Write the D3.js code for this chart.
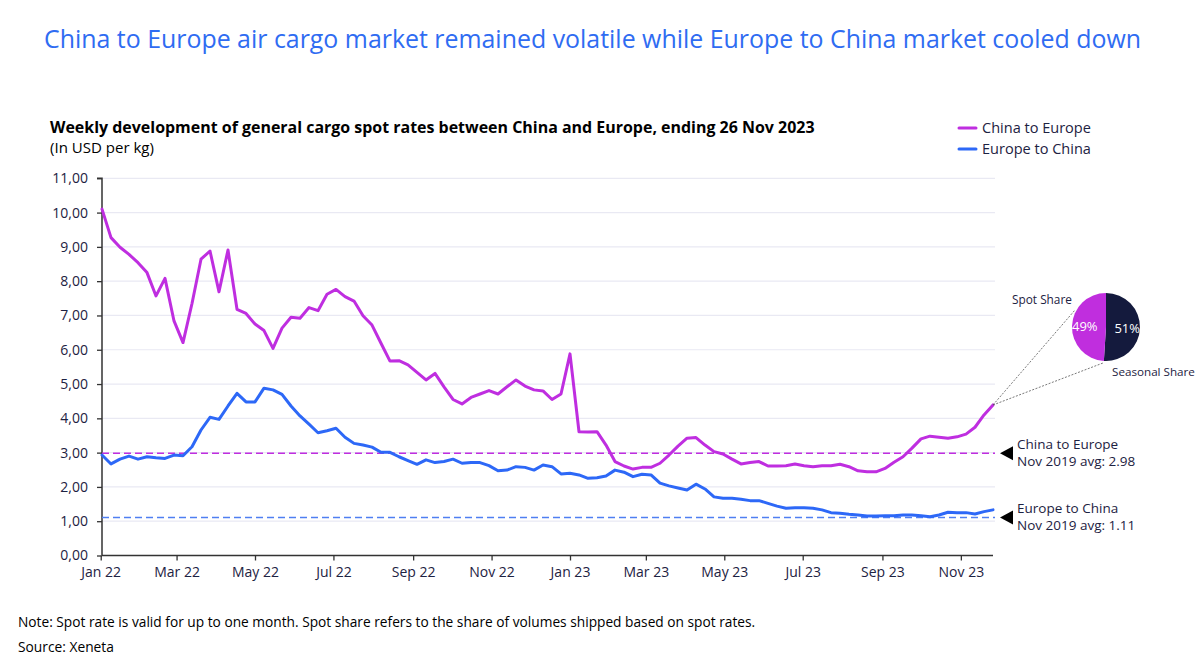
<!DOCTYPE html>
<html><head><meta charset="utf-8">
<script src="https://cdn.jsdelivr.net/npm/d3@7"></script>
<style>
body{margin:0;background:#fff;}
text{font-family:"Open Sans","Noto Sans",sans-serif;}
</style></head>
<body><svg id="c" width="1200" height="657"></svg>
<script>
// ---- data ----
const firstWeek = "2022-01-02"; // weekly, ending 26 Nov 2023
const chinaToEurope = [10.10,9.27,8.99,8.78,8.54,8.25,7.57,8.08,6.84,6.21,
7.35,8.64,8.88,7.69,8.91,7.18,7.06,6.75,6.56,6.04,
6.63,6.95,6.92,7.23,7.14,7.62,7.76,7.55,7.42,6.99,
6.72,6.19,5.67,5.68,5.56,5.34,5.12,5.31,4.92,4.55,
4.42,4.61,4.71,4.81,4.71,4.92,5.12,4.94,4.83,4.80,
4.55,4.71,5.88,3.61,3.60,3.61,3.22,2.74,2.61,2.52,
2.57,2.57,2.69,2.93,3.19,3.42,3.44,3.22,3.03,2.96,
2.81,2.67,2.71,2.74,2.61,2.61,2.62,2.67,2.62,2.59,
2.62,2.62,2.66,2.59,2.47,2.44,2.44,2.54,2.72,2.88,
3.13,3.40,3.48,3.45,3.42,3.46,3.54,3.74,4.10,4.39];
const europeToChina = [2.93,2.67,2.81,2.90,2.81,2.88,2.85,2.83,2.93,2.91,
3.17,3.66,4.03,3.97,4.36,4.73,4.48,4.48,4.88,4.83,
4.70,4.36,4.07,3.83,3.58,3.64,3.71,3.45,3.27,3.22,
3.16,3.01,3.01,2.88,2.77,2.66,2.79,2.71,2.74,2.81,
2.69,2.71,2.71,2.62,2.47,2.49,2.59,2.57,2.49,2.64,
2.59,2.38,2.40,2.35,2.25,2.27,2.32,2.49,2.43,2.30,
2.37,2.35,2.11,2.03,1.97,1.91,2.08,1.94,1.71,1.67,
1.67,1.64,1.60,1.60,1.52,1.44,1.38,1.39,1.39,1.38,
1.33,1.25,1.23,1.20,1.18,1.15,1.15,1.16,1.16,1.18,
1.18,1.16,1.13,1.18,1.26,1.25,1.25,1.21,1.28,1.33];
const seriesNames = ["China to Europe","Europe to China"];
const benchmarks = [2.98, 1.11];
const benchmarkLabels = [["China to Europe","Nov 2019 avg: 2.98"],["Europe to China","Nov 2019 avg: 1.11"]];
const yTicks = [0,1,2,3,4,5,6,7,8,9,10,11];
const xTickMonths = ["2022-01-01","2022-03-01","2022-05-01","2022-07-01","2022-09-01","2022-11-01",
"2023-01-01","2023-03-01","2023-05-01","2023-07-01","2023-09-01","2023-11-01"];
const pieLabels = ["Seasonal Share","Spot Share"];
const pieValues = [51, 49];

// ---- styles ----
const C_MAG = "#bf2ee0", C_BLUE = "#2d68f7", C_NAVY = "#141a3d", C_TXT = "#1d2242", C_TITLE = "#2f6cf2";

const svg = d3.select("#c");
const parse = d3.timeParse("%Y-%m-%d");
const start = parse(firstWeek);
const dates = chinaToEurope.map((_, i) => d3.timeDay.offset(start, 7 * i));

const x = d3.scaleTime().domain([dates[0], dates[dates.length - 1]]).range([102, 993]);
const y = d3.scaleLinear().domain([0, 11]).range([555.5, 178.3]);

function fit(sel, w) {
  const n = sel.node(); const fs = parseFloat(sel.attr("font-size"));
  const cur = n.getComputedTextLength();
  if (cur > 0) sel.attr("font-size", (fs * w / cur).toFixed(2));
  return sel;
}

// title
fit(svg.append("text").attr("x", 592.5).attr("y", 48).attr("text-anchor", "middle")
  .attr("font-size", 26).attr("fill", C_TITLE)
  .text("China to Europe air cargo market remained volatile while Europe to China market cooled down"), 1097);
fit(svg.append("text").attr("x", 50).attr("y", 133).attr("font-size", 16).attr("font-weight", 700).attr("fill", "#000")
  .text("Weekly development of general cargo spot rates between China and Europe, ending 26 Nov 2023"), 765);
fit(svg.append("text").attr("x", 50).attr("y", 153).attr("font-size", 14).attr("fill", "#000")
  .text("(In USD per kg)"), 104);

// gridlines
svg.append("g").selectAll("line").data(yTicks.filter(d => d > 0)).join("line")
  .attr("x1", 102).attr("x2", 995).attr("y1", d => y(d)).attr("y2", d => y(d))
  .attr("stroke", "#e9e9f3").attr("stroke-width", 1.2);

// y axis
const yAxis = svg.append("g").attr("transform", "translate(102,0)")
  .call(d3.axisLeft(y).tickValues(yTicks).tickSize(5).tickPadding(9)
    .tickFormat(d => d.toFixed(2).replace(".", ",")));
yAxis.select(".domain").attr("stroke", "#333").attr("stroke-width", 1.5).attr("d", `M-5,${y(11)}H0V${y(0)}`);
yAxis.selectAll(".tick line").attr("stroke", "#333").attr("stroke-width", 1.3);
yAxis.selectAll("text").attr("font-size", 14).attr("fill", C_TXT).attr("font-family", "Open Sans");

// x axis
const xAxis = svg.append("g").attr("transform", `translate(0,${y(0)})`)
  .call(d3.axisBottom(x).tickValues(xTickMonths.map(parse)).tickSize(5).tickPadding(7)
    .tickFormat(d3.timeFormat("%b %y")));
xAxis.select(".domain").attr("stroke", "#333").attr("stroke-width", 1.5).attr("d", "M102,0H993");
xAxis.selectAll(".tick line").attr("stroke", "#333").attr("stroke-width", 1.3);
xAxis.selectAll("text").attr("font-size", 14).attr("fill", C_TXT).attr("font-family", "Open Sans");

// benchmark dashed lines
const bColors = [C_MAG, "#4f7ff2"];
svg.append("g").selectAll("line").data(benchmarks).join("line")
  .attr("x1", 102).attr("x2", 995).attr("y1", d => y(d)).attr("y2", d => y(d))
  .attr("stroke", (d, i) => bColors[i]).attr("stroke-width", 1.5).attr("stroke-dasharray", "7,4");

// lines
const line = d3.line().x((d, i) => x(dates[i])).y(d => y(d));
[[chinaToEurope, C_MAG], [europeToChina, C_BLUE]].forEach(([vals, col]) => {
  svg.append("path").datum(vals).attr("d", line).attr("fill", "none")
    .attr("stroke", col).attr("stroke-width", 3).attr("stroke-linejoin", "round").attr("stroke-linecap", "round");
});

// arrows + benchmark labels
benchmarks.forEach((b, i) => {
  const yy = y(b);
  svg.append("path").attr("d", `M1000,${yy}L1013,${yy - 7}L1013,${yy + 7}Z`).attr("fill", "#000");
  svg.append("text").attr("x", 1017).attr("y", yy - 4.5).attr("font-size", 13.5).attr("fill", C_TXT).text(benchmarkLabels[i][0]);
  svg.append("text").attr("x", 1017).attr("y", yy + 12.5).attr("font-size", 13.5).attr("fill", C_TXT).text(benchmarkLabels[i][1]);
});

// legend
seriesNames.forEach((n, i) => {
  const ly = 128 + i * 21;
  svg.append("line").attr("x1", 959).attr("x2", 976).attr("y1", ly).attr("y2", ly)
    .attr("stroke", i ? C_BLUE : C_MAG).attr("stroke-width", 3).attr("stroke-linecap", "round");
  fit(svg.append("text").attr("x", 982).attr("y", ly + 5).attr("font-size", 15).attr("fill", C_TXT).text(n), 109);
});

// pie callout
const last = chinaToEurope.length - 1;
const px = x(dates[last]), py = y(chinaToEurope[last]);
const cx = 1106, cy = 327, r = 34;
svg.append("line").attr("x1", px).attr("y1", py).attr("x2", 1075).attr("y2", 310)
  .attr("stroke", "#555").attr("stroke-width", 0.8).attr("stroke-dasharray", "2,1.5");
svg.append("line").attr("x1", px).attr("y1", py).attr("x2", 1103).attr("y2", 363)
  .attr("stroke", "#555").attr("stroke-width", 0.8).attr("stroke-dasharray", "2,1.5");
const pie = d3.pie().sort(null)(pieValues);
const arc = d3.arc().innerRadius(0).outerRadius(r);
const pg = svg.append("g").attr("transform", `translate(${cx},${cy})`);
pg.selectAll("path").data(pie).join("path").attr("d", arc).attr("fill", (d, i) => i ? "#c02ede" : C_NAVY);
pg.selectAll("text").data(pie).join("text")
  .attr("transform", d => { const c = d3.arc().innerRadius(0).outerRadius(r * 1.25).centroid(d); return `translate(${c[0]},${c[1] + 5})`; })
  .attr("text-anchor", "middle").attr("font-size", 13).attr("fill", "#fff").attr("font-family", "Open Sans")
  .text(d => d.value + "%");
fit(svg.append("text").attr("x", 1012).attr("y", 304).attr("font-size", 12).attr("fill", C_TXT).text(pieLabels[1]), 60);
fit(svg.append("text").attr("x", 1112).attr("y", 376).attr("font-size", 12).attr("fill", C_TXT).text(pieLabels[0]), 83);

// footnotes
fit(svg.append("text").attr("x", 18).attr("y", 627).attr("font-size", 13).attr("fill", "#000")
  .text("Note: Spot rate is valid for up to one month. Spot share refers to the share of volumes shipped based on spot rates."), 738);
fit(svg.append("text").attr("x", 18).attr("y", 652).attr("font-size", 13).attr("fill", "#000")
  .text("Source: Xeneta"), 96);
</script></body></html>
